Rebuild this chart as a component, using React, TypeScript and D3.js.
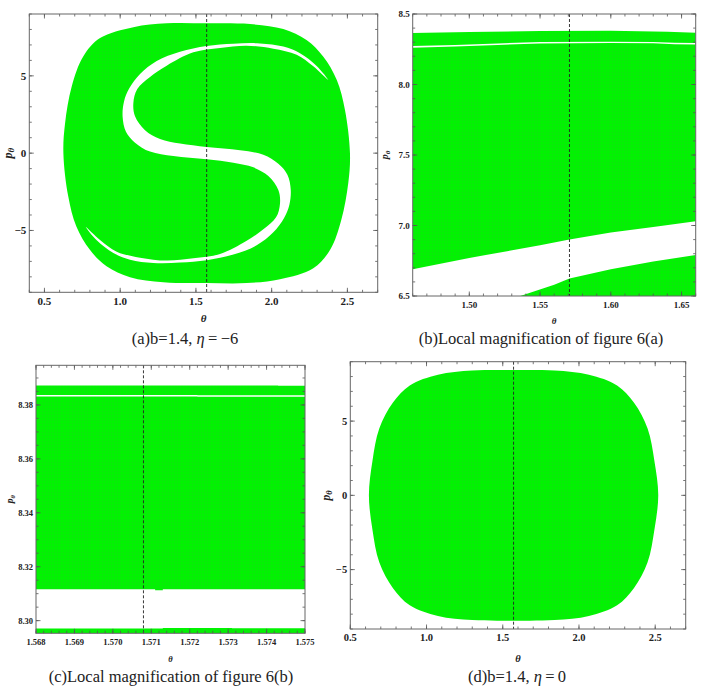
import React from 'react'
import * as d3 from 'd3'

type Pt = [number, number]

// (a) b=1.4, eta=-6 : outer edge of the green region, theta vs p_theta
const outerA: Pt[] = [
  [1.571, 8.4], [1.857, 8.35], [2.077, 8.03], [2.23, 7.32], [2.34, 6.25], [2.43, 4.73],
  [2.484, 2.79], [2.517, 0], [2.506, -1.92], [2.46, -4.31], [2.386, -6.25], [2.275, -7.44],
  [2.055, -8.15], [1.835, -8.4], [1.571, -8.4], [1.285, -8.35], [1.065, -8.03], [0.91, -7.32],
  [0.8, -6.25], [0.71, -4.73], [0.657, -2.79], [0.625, 0], [0.636, 1.92], [0.68, 4.31],
  [0.756, 6.25], [0.867, 7.44], [1.087, 8.15], [1.307, 8.4],
]

// (a) the white S band, one edge from the upper right tip to the lower left tip
const gapEdge1: Pt[] = [
  [2.374, 4.73], [2.297, 5.64], [2.187, 6.46], [2.077, 6.89], [1.923, 7.1], [1.747, 7.08],
  [1.571, 6.93], [1.395, 6.56], [1.241, 5.96], [1.131, 5.12], [1.06, 4.19], [1.025, 3.33],
  [1.016, 2.36], [1.038, 1.39], [1.098, 0.68], [1.197, 0.1], [1.351, -0.19], [1.571, -0.4],
  [1.747, -0.62], [1.879, -0.92], [1.978, -1.48], [2.044, -2.38], [2.055, -3.25], [2.029, -4.15],
  [1.945, -4.93], [1.835, -5.66], [1.659, -6.52], [1.483, -6.8], [1.307, -6.95], [1.131, -6.76],
  [0.977, -6.37], [0.867, -5.62], [0.772, -4.76],
]
// and the other edge, back from the lower left tip to the upper right tip
const gapEdge2: Pt[] = [
  [0.845, -5.64], [0.955, -6.46], [1.065, -6.89], [1.219, -7.1], [1.395, -7.08], [1.571, -6.93],
  [1.747, -6.56], [1.901, -5.96], [2.011, -5.12], [2.082, -4.19], [2.117, -3.33], [2.126, -2.36],
  [2.104, -1.39], [2.044, -0.68], [1.945, -0.1], [1.791, 0.19], [1.571, 0.4], [1.395, 0.62],
  [1.263, 0.92], [1.164, 1.48], [1.098, 2.38], [1.087, 3.25], [1.113, 4.15], [1.197, 4.93],
  [1.307, 5.66], [1.483, 6.52], [1.659, 6.8], [1.835, 6.95], [2.011, 6.76], [2.165, 6.37],
  [2.275, 5.62],
]

// (b) local magnification
const bTopEdge: Pt[] = [[1.46, 8.365], [1.5, 8.372], [1.55, 8.38], [1.6, 8.381], [1.64, 8.374], [1.66, 8.367]]
const bLineUpper: Pt[] = [[1.46, 8.273], [1.49, 8.281], [1.52, 8.291], [1.55, 8.301], [1.6, 8.304], [1.63, 8.302], [1.645, 8.296], [1.66, 8.294]]
const bLineLower: Pt[] = [[1.46, 8.261], [1.49, 8.269], [1.52, 8.281], [1.55, 8.291], [1.6, 8.294], [1.63, 8.292], [1.645, 8.286], [1.66, 8.284]]
const bBandUpper: Pt[] = [[1.46, 6.69], [1.5, 6.77], [1.55, 6.86], [1.5708, 6.9], [1.6, 6.95], [1.63, 6.99], [1.66, 7.03]]
const bBandLower: Pt[] = [[1.536, 6.5], [1.56, 6.58], [1.5708, 6.625], [1.6, 6.69], [1.63, 6.745], [1.66, 6.79]]

// (c) local magnification of (b): horizontal layers
const cTopEdge: Pt[] = [[1.568, 8.3872], [1.5743, 8.3872], [1.5743, 8.3871], [1.575, 8.3871]]
const cLineUpper: Pt[] = [[1.568, 8.3837], [1.5722, 8.3837], [1.5722, 8.3836], [1.575, 8.3836]]
const cLineLower: Pt[] = [[1.568, 8.3831], [1.5722, 8.3831], [1.5722, 8.383], [1.575, 8.383]]
const cMidBottom: Pt[] = [[1.568, 8.3116], [1.5711, 8.3116], [1.5711, 8.3113], [1.5713, 8.3113], [1.5713, 8.3116], [1.575, 8.3116]]
const cLowTop: Pt[] = [[1.568, 8.2971], [1.5713, 8.2971], [1.5713, 8.2973], [1.5731, 8.2973], [1.5731, 8.2972], [1.575, 8.2972]]

// (d) b=1.4, eta=0
const outerD: Pt[] = [
  [1.571, 8.44], [1.84, 8.4], [2.065, 8.12], [2.25, 7.4], [2.36, 6.25], [2.45, 4.5],
  [2.495, 2.3], [2.52, 0], [2.495, -2.3], [2.45, -4.5], [2.36, -6.25], [2.25, -7.4],
  [2.065, -8.12], [1.84, -8.4], [1.571, -8.44], [1.3, -8.4], [1.075, -8.12], [0.89, -7.4],
  [0.78, -6.25], [0.69, -4.5], [0.645, -2.3], [0.622, 0], [0.645, 2.3], [0.69, 4.5],
  [0.78, 6.25], [0.89, 7.4], [1.075, 8.12], [1.3, 8.4],
]

const xTicksA = [0.5, 1.0, 1.5, 2.0, 2.5]
const yTicksA = [-5, 0, 5]
const xTicksB = [1.5, 1.55, 1.6, 1.65]
const yTicksB = [6.5, 7.0, 7.5, 8.0, 8.5]
const xTicksC = [1.568, 1.569, 1.57, 1.571, 1.572, 1.573, 1.574, 1.575]
const yTicksC = [8.3, 8.32, 8.34, 8.36, 8.38]
const xTicksD = [0.5, 1.0, 1.5, 2.0, 2.5]
const yTicksD = [-5, 0, 5]

const DASH_AT = Math.PI / 2
const GREEN = 'url(#green)'
const SERIF = "'Liberation Serif', 'Times New Roman', serif"

type Region = { pts: Pt[]; fill: string; curve?: d3.CurveFactory }

type PanelProps = {
  id: string
  x0: number; x1: number; y0: number; y1: number
  xDomain: Pt; yDomain: Pt
  xTicks: number[]; yTicks: number[]
  xMinor: number; yMinor: number
  xFmt: (v: number) => string; yFmt: (v: number) => string
  fs: number
  regions: Region[]
  yLabelX: number
  xLabelY: number
  caption: React.ReactNode
  captionX: number
  captionY: number
}

function Panel(p: PanelProps) {
  const x = d3.scaleLinear().domain(p.xDomain).range([p.x0, p.x1])
  const y = d3.scaleLinear().domain(p.yDomain).range([p.y1, p.y0])
  const line = d3.line<Pt>().x(d => x(d[0])).y(d => y(d[1]))
  const eps = 1e-9
  const xMin = d3.range(Math.ceil(p.xDomain[0] / p.xMinor - eps) * p.xMinor, p.xDomain[1] + eps, p.xMinor)
  const yMin = d3.range(Math.ceil(p.yDomain[0] / p.yMinor - eps) * p.yMinor, p.yDomain[1] + eps, p.yMinor)
  const tc = '#555'
  return (
    <g>
      <defs>
        <clipPath id={'clip-' + p.id}>
          <rect x={p.x0} y={p.y0} width={p.x1 - p.x0} height={p.y1 - p.y0} />
        </clipPath>
      </defs>
      <g clipPath={`url(#clip-${p.id})`}>
        {p.regions.map((r, i) => (
          <path key={i} d={line.curve(r.curve || d3.curveLinearClosed)(r.pts) || ''} fill={r.fill} />
        ))}
      </g>
      <line x1={x(DASH_AT)} x2={x(DASH_AT)} y1={p.y0} y2={p.y1} stroke="#222" strokeWidth={0.9} strokeDasharray="3,2" />
      {xMin.map((v, i) => (
        <g key={'xm' + i} stroke={tc} strokeWidth={0.8}>
          <line x1={x(v)} x2={x(v)} y1={p.y1} y2={p.y1 - 2.5} />
          <line x1={x(v)} x2={x(v)} y1={p.y0} y2={p.y0 + 2.5} />
        </g>
      ))}
      {yMin.map((v, i) => (
        <g key={'ym' + i} stroke={tc} strokeWidth={0.8}>
          <line x1={p.x0} x2={p.x0 + 2.5} y1={y(v)} y2={y(v)} />
          <line x1={p.x1} x2={p.x1 - 2.5} y1={y(v)} y2={y(v)} />
        </g>
      ))}
      {p.xTicks.map((v, i) => (
        <g key={'xt' + i}>
          <line x1={x(v)} x2={x(v)} y1={p.y1} y2={p.y1 - 4.5} stroke={tc} strokeWidth={0.8} />
          <line x1={x(v)} x2={x(v)} y1={p.y0} y2={p.y0 + 4.5} stroke={tc} strokeWidth={0.8} />
          <text x={x(v)} y={p.y1 + 8.5} dy="0.35em" textAnchor="middle" fontSize={p.fs} fontWeight="bold"
            fontFamily={SERIF} fill="#222">{p.xFmt(v)}</text>
        </g>
      ))}
      {p.yTicks.map((v, i) => (
        <g key={'yt' + i}>
          <line x1={p.x0} x2={p.x0 + 4.5} y1={y(v)} y2={y(v)} stroke={tc} strokeWidth={0.8} />
          <line x1={p.x1} x2={p.x1 - 4.5} y1={y(v)} y2={y(v)} stroke={tc} strokeWidth={0.8} />
          <text x={p.x0 - 3} y={y(v)} dy="0.35em" textAnchor="end" fontSize={p.fs} fontWeight="bold"
            fontFamily={SERIF} fill="#222">{p.yFmt(v)}</text>
        </g>
      ))}
      <rect x={p.x0} y={p.y0} width={p.x1 - p.x0} height={p.y1 - p.y0} fill="none" stroke="#666" strokeWidth={1} />
      <text x={(p.x0 + p.x1) / 2} y={p.xLabelY} textAnchor="middle" fontSize={p.fs} fontStyle="italic" fontWeight="bold"
        fontFamily={SERIF} fill="#222">θ</text>
      <text transform={`translate(${p.yLabelX},${(p.y0 + p.y1) / 2}) rotate(-90)`} textAnchor="middle" fontSize={p.fs + 1}
        fontStyle="italic" fontWeight="bold" fontFamily={SERIF} fill="#222">
        p<tspan fontSize={p.fs - 2} dy="2">θ</tspan>
      </text>
      <text x={p.captionX} y={p.captionY} textAnchor="middle" fontSize={16.5} fontFamily={SERIF} fill="#222">
        {p.caption}
      </text>
    </g>
  )
}

const fmt1 = d3.format('.1f')
const fmt2 = d3.format('.2f')
const fmt3 = d3.format('.3f')
const fmtInt = (v: number) => (v < 0 ? '\u2212' + Math.abs(v) : String(v))

export default function App() {
  return (
    <svg width={708} height={688} style={{ position: 'absolute', left: 0, top: 0, background: '#fff' }}>
      <defs>
        <pattern id="green" width={3} height={3} patternUnits="userSpaceOnUse">
          <rect width={3} height={3} fill="#00f500" />
          <path d="M0 0.5H3M0.5 0V3" stroke="#1ad41a" strokeWidth={0.5} strokeOpacity={0.5} />
        </pattern>
      </defs>
      <Panel
        id="a" x0={29.3} x1={377.7} y0={14} y1={292.3}
        xDomain={[0.4, 2.7]} yDomain={[-9, 9]}
        xTicks={xTicksA} yTicks={yTicksA} xMinor={0.1} yMinor={1}
        xFmt={fmt1} yFmt={fmtInt} fs={11}
        regions={[
          { pts: outerA, fill: GREEN, curve: d3.curveCatmullRomClosed },
          { pts: [...gapEdge1, ...gapEdge2], fill: '#fff', curve: d3.curveCatmullRomClosed },
        ]}
        yLabelX={12} xLabelY={322}
        caption={<>(a)b=1.4, <tspan fontStyle="italic">η</tspan>{'\u2009'}={'\u2009'}−6</>}
        captionX={185} captionY={344}
      />
      <Panel
        id="b" x0={412.7} x1={695.7} y0={14} y1={296}
        xDomain={[1.46, 1.66]} yDomain={[6.5, 8.5]}
        xTicks={xTicksB} yTicks={yTicksB} xMinor={0.01} yMinor={0.1}
        xFmt={fmt2} yFmt={fmt1} fs={9}
        regions={[
          { pts: [...bTopEdge, ...bBandUpper.slice().reverse()], fill: GREEN },
          { pts: [...bLineUpper, ...bLineLower.slice().reverse()], fill: '#fff' },
          { pts: [...bBandLower, [1.66, 6.5]], fill: GREEN },
        ]}
        yLabelX={388} xLabelY={324}
        caption={<>(b)Local magnification of figure 6(a)</>}
        captionX={541} captionY={344}
      />
      <Panel
        id="c" x0={36} x1={305} y0={365.3} y1={633.3}
        xDomain={[1.568, 1.575]} yDomain={[8.2953, 8.3947]}
        xTicks={xTicksC} yTicks={yTicksC} xMinor={0.0002} yMinor={0.005}
        xFmt={fmt3} yFmt={fmt2} fs={8.5}
        regions={[
          { pts: [...cTopEdge, ...cMidBottom.slice().reverse()], fill: GREEN },
          { pts: [...cLineUpper, ...cLineLower.slice().reverse()], fill: '#fff' },
          { pts: [...cLowTop, [1.575, 8.2953], [1.568, 8.2953]], fill: GREEN },
        ]}
        yLabelX={13} xLabelY={662}
        caption={<>(c)Local magnification of figure 6(b)</>}
        captionX={171} captionY={682}
      />
      <Panel
        id="d" x0={350.3} x1={685.7} y0={361.7} y1={629}
        xDomain={[0.5, 2.7]} yDomain={[-9, 9]}
        xTicks={xTicksD} yTicks={yTicksD} xMinor={0.1} yMinor={1}
        xFmt={fmt1} yFmt={fmtInt} fs={10.5}
        regions={[{ pts: outerD, fill: GREEN, curve: d3.curveCatmullRomClosed }]}
        yLabelX={330} xLabelY={662}
        caption={<>(d)b=1.4, <tspan fontStyle="italic">η</tspan>{'\u2009'}={'\u2009'}0</>}
        captionX={517} captionY={682}
      />
    </svg>
  )
}
